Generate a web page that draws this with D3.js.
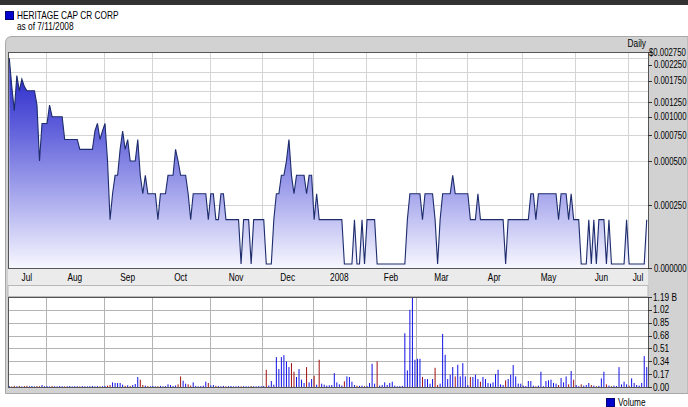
<!DOCTYPE html>
<html>
<head>
<meta charset="utf-8">
<script src="https://cdn.jsdelivr.net/npm/d3@7"></script>
<style>
  body { margin: 0; background: #fff; }
  svg { display: block; }
  text { font-family: "Liberation Sans", Arial, sans-serif; font-size: 10px; fill: #000; }
</style>
</head>
<body>
<svg id="chart" width="688" height="407"></svg>
<script>
// trading days per month shown (Jul 2007 .. Jul 2008)
var months = ['Jul', 'Aug', 'Sep', 'Oct', 'Nov', 'Dec', '2008', 'Feb', 'Mar', 'Apr', 'May', 'Jun', 'Jul'];
var monthDays = [15, 23, 19, 23, 21, 20, 21, 20, 20, 22, 21, 21, 8];

// daily close, $
var prices = [
    0.0025, 0.0016, 0.0011, 0.0019, 0.0015, 0.0018, 0.0016, 0.0015, 0.0015, 0.0015, 0.0015,
    0.0012, 0.0005, 0.0009, 0.0009, 0.0009, 0.0012, 0.0010, 0.0010, 0.0010, 0.0010, 0.0010,
    0.0007, 0.0007, 0.0007, 0.0007, 0.0007, 0.0007, 0.0006, 0.0006, 0.0006, 0.0006, 0.0006, 0.0006,
    0.0008, 0.0009, 0.0007, 0.0008, 0.0009, 0.0005, 0.0002, 0.0003, 0.0004, 0.0004,
    0.0006, 0.0008, 0.0006, 0.0007, 0.0005, 0.0005, 0.0005, 0.0007, 0.0004, 0.0003, 0.0004,
    0.0003, 0.0003, 0.0003, 0.0003, 0.0002, 0.0003, 0.0003, 0.0003,
    0.0004, 0.0004, 0.0004, 0.0006, 0.0005, 0.0004, 0.0004, 0.0004,
    0.0003, 0.0002, 0.0003, 0.0003, 0.0003, 0.0003, 0.0003,
    0.0003, 0.0002, 0.0003, 0.0003, 0.0002, 0.0002, 0.0003, 0.0003,
    0.0002, 0.0002, 0.0002, 0.0002, 0.0002, 0.0002,
    0.0001, 0.0002, 0.0002, 0.0002, 0.0001, 0.0002, 0.0002, 0.0002, 0.0002, 0.0002,
    0.0001, 0.0001, 0.0001, 0.0002,
    0.0003, 0.0003, 0.0004, 0.0004, 0.0005, 0.0007, 0.0004, 0.0003,
    0.0004, 0.0004, 0.0004, 0.0004, 0.0003, 0.0004, 0.0004, 0.0002, 0.0003, 0.0002,
    0.0002, 0.0002, 0.0002, 0.0002, 0.0002, 0.0002, 0.0002, 0.0002, 0.0002,
    0.0001, 0.0001, 0.0001, 0.0001,
    0.0002, 0.0001, 0.0001, 0.0002, 0.0001, 0.0002, 0.0002, 0.0002, 0.0002,
    0.0001, 0.0001, 0.0001, 0.0001, 0.0001, 0.0001, 0.0001, 0.0001, 0.0001, 0.0001, 0.0001, 0.0001,
    0.0002, 0.0003, 0.0003, 0.0003, 0.0003, 0.0003,
    0.0002, 0.0003, 0.0003, 0.0003, 0.0003, 0.0002, 0.0001, 0.0002, 0.0003, 0.0003, 0.0003, 0.0003, 0.0004,
    0.0003, 0.0003, 0.0003, 0.0003, 0.0003, 0.0003,
    0.0002, 0.0002, 0.0002, 0.0003,
    0.0002, 0.0002, 0.0002, 0.0002, 0.0002, 0.0002, 0.0002, 0.0002, 0.0002, 0.0002,
    0.0001,
    0.0002, 0.0002, 0.0002, 0.0002, 0.0002, 0.0002, 0.0002, 0.0002, 0.0002,
    0.0003, 0.0003, 0.0002, 0.0003, 0.0003, 0.0003, 0.0003, 0.0003, 0.0003, 0.0003, 0.0003,
    0.0002, 0.0003, 0.0003, 0.0003, 0.0002, 0.0003, 0.0002, 0.0002, 0.0002, 0.0001, 0.0001, 0.0001,
    0.0002, 0.0001, 0.0002, 0.0001, 0.0002, 0.0002, 0.0002, 0.0001, 0.0002, 0.0001, 0.0001, 0.0001,
    0.0001, 0.0001, 0.0001, 0.0002, 0.0001, 0.0001, 0.0001, 0.0001, 0.0001, 0.0001, 0.0001, 0.0002
];

// daily volume, millions of shares
var volumes = [
    12, 8, 15, 10, 14, 9, 12, 16, 10, 13, 8, 12, 10,
    26,
    10, 12, 8, 14, 10, 9, 12, 11, 8, 10, 13, 9, 11, 10, 8, 12, 10, 9, 11, 14, 10, 12, 9, 10, 13, 18,
    26, 61, 53, 53, 53, 31, 15, 22, 12, 26, 40, 132, 97, 26, 18,
    12, 10, 14, 9, 11, 15, 10, 12,
    35, 26, 14, 20, 35, 140, 83, 44, 35, 18, 61, 15, 10, 12, 18, 70, 53, 20, 26, 15,
    12, 10, 14, 9, 11, 13, 8, 10, 12, 9, 11, 10, 8, 13, 10, 9, 12, 10, 14,
    228, 20, 79, 30, 395, 237, 395, 421, 338, 263, 316, 202, 132, 237, 97, 53, 263, 61, 105, 149,
    30, 360, 44, 31, 18, 22, 26, 184, 61, 35, 20, 75, 140, 132, 70, 26, 18, 15, 18, 10,
    12, 53, 307, 44, 338, 18, 26, 61, 26, 53, 70, 18, 10, 12, 15, 711, 219, 1020, 1190, 360,
    373, 373, 132, 105, 105, 44, 105, 254, 26, 44, 702, 425, 105, 162, 263, 140, 294, 140, 316, 140,
    26, 132, 132, 162, 105, 70, 132, 105, 53, 44, 61, 171, 228, 35, 26, 88, 105, 162, 290, 140,
    44, 44, 18, 12, 79, 79, 18, 10, 18, 202, 10, 79, 88, 97, 53, 44, 26, 119, 61, 140,
    35, 211, 97, 26, 10, 35, 18, 26, 53, 26, 18, 10, 15, 114, 202, 35, 18, 10, 18, 12,
    263, 35, 70, 35, 18, 114, 53, 26, 18, 53, 408, 263
];

var priceLabels = [0.00275, 0.00225, 0.00175, 0.00125, 0.001, 0.00075, 0.0005, 0.00025, 0];
var priceGrid = [0.0025, 0.002, 0.00175, 0.0015, 0.00125, 0.001, 0.00075, 0.0005, 0.00025];
var volumeTicks = [0, 0.17, 0.34, 0.51, 0.68, 0.85, 1.02, 1.19];

var plot = {left: 8, right: 648, top: 52, bottom: 268};
var vplot = {top: 297, bottom: 387};
var squeeze = 0.83;   // narrow lettering of the original

var svg = d3.select('#chart');

var ends = d3.cumsum(monthDays);
var nDays = ends[ends.length - 1];
var starts = [0].concat(Array.from(ends).slice(0, -1));

var x = d3.scaleLinear()
    .domain([0, nDays])
    .range([plot.left, plot.right]);

var yLog = d3.scaleLog()
    .domain([0.0001, 0.00275])
    .range([plot.bottom - 4, plot.top]);

function yPrice(v) {
    return v > 0 ? yLog(v) : plot.bottom;
}

var yVol = d3.scaleLinear()
    .domain([0, 1190])
    .range([vplot.bottom, vplot.top]);

function at(px, py, k) {
    return 'translate(' + px + ',' + py + ') scale(' + (k || squeeze) + ',1)';
}

function label(px, py, str, anchor) {
    return svg.append('text')
        .attr('transform', at(px, py))
        .attr('text-anchor', anchor || 'start')
        .text(str);
}

// gradient for the price area
var grad = svg.append('defs')
  .append('linearGradient')
    .attr('id', 'fill')
    .attr('gradientUnits', 'userSpaceOnUse')
    .attr('x1', 0).attr('x2', 0)
    .attr('y1', plot.top).attr('y2', plot.bottom);
[['0%', '#1a1ac6'], ['35%', '#5f5fdb'], ['65%', '#a4a4ec'], ['100%', '#f7f7ff']].forEach(function (s) {
    grad.append('stop').attr('offset', s[0]).attr('stop-color', s[1]);
});

svg.append('clipPath')
    .attr('id', 'clip')
  .append('rect')
    .attr('x', plot.left).attr('y', plot.top)
    .attr('width', plot.right - plot.left).attr('height', plot.bottom - plot.top);

// header
svg.append('rect')
    .attr('x', 0).attr('y', 0).attr('width', 688).attr('height', 5)
    .attr('fill', '#333');

svg.append('rect')
    .attr('x', 5.5).attr('y', 11.5).attr('width', 8).attr('height', 8)
    .attr('fill', '#0000cc').attr('stroke', '#000070');
label(17, 19, 'HERITAGE CAP CR CORP');
label(17, 30, 'as of 7/11/2008');

// gray panel
svg.append('path')
    .attr('d', 'M5.5,393.5 L5.5,43 Q5.5,36.5 12,36.5 L688,36.5 L688,393.5 Z')
    .attr('fill', '#d2d2d2')
    .attr('stroke', '#a8a8a8');

label(646, 47, 'Daily', 'end');

// price plot
svg.append('rect')
    .attr('x', plot.left).attr('y', plot.top)
    .attr('width', plot.right - plot.left).attr('height', plot.bottom - plot.top)
    .attr('fill', '#fff');

svg.append('g')
    .selectAll('line')
    .data(priceGrid)
  .enter().append('line')
    .attr('x1', plot.left).attr('x2', plot.right)
    .attr('y1', function (d) { return Math.round(yPrice(d)) + 0.5; })
    .attr('y2', function (d) { return Math.round(yPrice(d)) + 0.5; })
    .attr('stroke', '#d4d4d4');

svg.append('g')
    .selectAll('line')
    .data(starts.slice(1))
  .enter().append('line')
    .attr('x1', function (d) { return Math.round(x(d)) + 0.5; })
    .attr('x2', function (d) { return Math.round(x(d)) + 0.5; })
    .attr('y1', plot.top).attr('y2', plot.bottom)
    .attr('stroke', '#d4d4d4');

var area = d3.area()
    .x(function (d, i) { return x(i + 0.5); })
    .y0(plot.bottom)
    .y1(function (d) { return yPrice(d); });

var line = d3.line()
    .x(function (d, i) { return x(i + 0.5); })
    .y(function (d) { return yPrice(d); });

var pg = svg.append('g').attr('clip-path', 'url(#clip)');
pg.append('path')
    .datum(prices)
    .attr('d', area)
    .attr('fill', 'url(#fill)');
pg.append('path')
    .datum(prices)
    .attr('d', line)
    .attr('fill', 'none')
    .attr('stroke', '#1d2c6c')
    .attr('stroke-width', 1.1);

svg.append('rect')
    .attr('x', plot.left + 0.5).attr('y', plot.top + 0.5)
    .attr('width', plot.right - plot.left).attr('height', plot.bottom - plot.top)
    .attr('fill', 'none')
    .attr('stroke', '#555');

// right price axis
var pAxis = svg.append('g').attr('class', 'price-axis');
pAxis.selectAll('line')
    .data(priceLabels)
  .enter().append('line')
    .attr('x1', plot.right).attr('x2', plot.right + 4)
    .attr('y1', function (d) { return Math.round(yPrice(d)) + 0.5; })
    .attr('y2', function (d) { return Math.round(yPrice(d)) + 0.5; })
    .attr('stroke', '#333');
pAxis.selectAll('text')
    .data(priceLabels)
  .enter().append('text')
    .attr('transform', function (d, i) {
        return at(i === 0 ? plot.right + 1 : plot.right + 6, yPrice(d), 0.78);
    })
    .attr('dy', '0.35em')
    .text(function (d, i) { return (i === 0 ? '$' : '') + d.toFixed(6); });

// month strip
svg.append('rect')
    .attr('x', plot.left).attr('y', plot.bottom + 1)
    .attr('width', plot.right - plot.left).attr('height', 16)
    .attr('fill', '#ebebeb');
svg.append('rect')
    .attr('x', plot.left).attr('y', 285.5)
    .attr('width', plot.right - plot.left).attr('height', 11)
    .attr('fill', '#f3f3f3')
    .attr('stroke', '#b8b8b8');

svg.append('g')
    .selectAll('text')
    .data(months)
  .enter().append('text')
    .attr('transform', function (d, i) { return at(x((starts[i] + ends[i]) / 2), 281); })
    .attr('text-anchor', 'middle')
    .text(function (d) { return d; });

// volume plot
svg.append('rect')
    .attr('x', plot.left).attr('y', vplot.top)
    .attr('width', plot.right - plot.left).attr('height', vplot.bottom - vplot.top)
    .attr('fill', '#fff');

svg.append('g')
    .selectAll('line')
    .data(volumeTicks.slice(1))
  .enter().append('line')
    .attr('x1', plot.left).attr('x2', plot.right)
    .attr('y1', function (d) { return Math.round(yVol(d * 1000)) + 0.5; })
    .attr('y2', function (d) { return Math.round(yVol(d * 1000)) + 0.5; })
    .attr('stroke', '#b4b4b4');

svg.append('g')
    .selectAll('line')
    .data(starts.slice(1))
  .enter().append('line')
    .attr('x1', function (d) { return Math.round(x(d)) + 0.5; })
    .attr('x2', function (d) { return Math.round(x(d)) + 0.5; })
    .attr('y1', vplot.top).attr('y2', vplot.bottom)
    .attr('stroke', '#b4b4b4');

svg.append('g')
    .selectAll('line')
    .data(volumes)
  .enter().append('line')
    .attr('x1', function (d, i) { return x(i + 0.5); })
    .attr('x2', function (d, i) { return x(i + 0.5); })
    .attr('y1', yVol(0))
    .attr('y2', function (d) { return yVol(d); })
    .attr('stroke', function (d, i) {
        return i > 0 && prices[i] < prices[i - 1] ? '#a01010' : '#1010e8';
    })
    .attr('stroke-width', 1);

svg.append('rect')
    .attr('x', plot.left + 0.5).attr('y', vplot.top + 0.5)
    .attr('width', plot.right - plot.left).attr('height', vplot.bottom - vplot.top)
    .attr('fill', 'none')
    .attr('stroke', '#555');

var vAxis = svg.append('g').attr('class', 'volume-axis');
vAxis.selectAll('line')
    .data(volumeTicks)
  .enter().append('line')
    .attr('x1', plot.right).attr('x2', plot.right + 4)
    .attr('y1', function (d) { return Math.round(yVol(d * 1000)) + 0.5; })
    .attr('y2', function (d) { return Math.round(yVol(d * 1000)) + 0.5; })
    .attr('stroke', '#333');
vAxis.selectAll('text')
    .data(volumeTicks)
  .enter().append('text')
    .attr('transform', function (d) { return at(plot.right + 5, yVol(d * 1000)); })
    .attr('dy', '0.35em')
    .text(function (d, i) { return d.toFixed(2) + (i === volumeTicks.length - 1 ? ' B' : ''); });

// volume legend
svg.append('rect')
    .attr('x', 606.5).attr('y', 398.5).attr('width', 8).attr('height', 8)
    .attr('fill', '#0000cc').attr('stroke', '#000070');
label(618, 406, 'Volume');
</script>
</body>
</html>
